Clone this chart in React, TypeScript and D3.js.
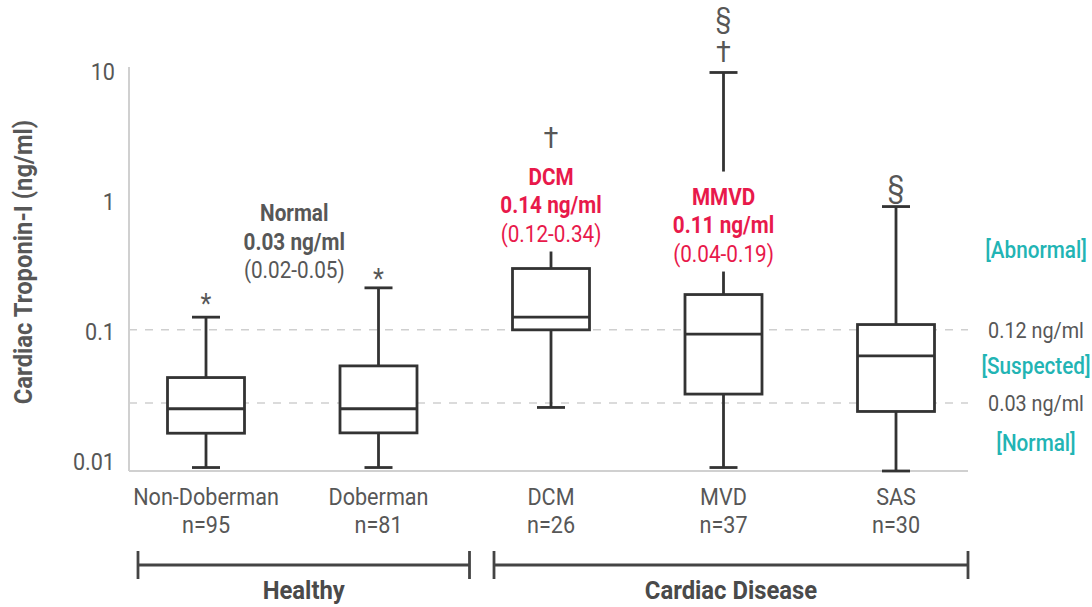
import React from 'react';
import * as d3 from 'd3';

// ---- data ----
const categories = ['Non-Doberman', 'Doberman', 'DCM', 'MVD', 'SAS'];
const sampleSizes = ['n=95', 'n=81', 'n=26', 'n=37', 'n=30'];
const whiskerMin = [0.00904, 0.00904, 0.0262, 0.00904, 0.0085];
const quartile1 = [0.0166, 0.0167, 0.1036, 0.0332, 0.0244];
const medians = [0.0256, 0.0256, 0.1297, 0.096, 0.0654];
const quartile3 = [0.0445, 0.0547, 0.307, 0.1936, 0.1138];
const whiskerMax = [0.1297, 0.218, 0.6, 9.89, 0.92];
const upperCap = [true, true, false, true, true];
const yTicks = [0.01, 0.1, 1, 10];
const yTickLabels = ['0.01', '0.1', '1', '10'];
const thresholdValues = [0.1036, 0.0284];
const thresholdLabels = ['0.12 ng/ml', '0.03 ng/ml'];
const zoneLabels = ['[Abnormal]', '[Suspected]', '[Normal]'];
const groupNames = ['Healthy', 'Cardiac Disease'];
const groupMembers = [['Non-Doberman', 'Doberman'], ['DCM', 'MVD', 'SAS']];
const significance = ['*', '*', '†', '†', '§'];
const extraMark = ['', '', '', '§', ''];
const normalNote = ['Normal', '0.03 ng/ml', '(0.02-0.05)'];
const dcmNote = ['DCM', '0.14 ng/ml', '(0.12-0.34)'];
const mvdNote = ['MMVD', '0.11 ng/ml', '(0.04-0.19)'];

const W = 1092;
const H = 607;
const FONT = 'Roboto, "Liberation Sans", sans-serif';
const GREY = '#575757';
const DARK = '#333333';
const RED = '#e8194b';
const TEAL = '#22b4b4';
const SX = 0.9;

type TProps = {
  x: number; y: number; children: React.ReactNode; size: number; weight?: number;
  fill?: string; anchor?: string; dy?: string; rotate?: number;
};
function T({ x, y, children, size, weight = 400, fill = GREY, anchor = 'middle', dy = '0.35em', rotate = 0 }: TProps) {
  return (
    <text transform={`translate(${x},${y}) rotate(${rotate}) scale(${SX},1)`} dy={dy}
      textAnchor={anchor} fontSize={size} fontWeight={weight} fill={fill}>{children}</text>
  );
}

export default function App() {
  const plotLeft = 129;
  const plotRight = 968;
  const y = d3.scaleLog().domain([0.0085, 10.9]).range([471, 67]);
  const x = d3.scalePoint<string>().domain(categories).range([206, 896]);
  const boxW = 77;
  const capW = 28;

  const boxes = categories.map((c, i) => ({
    c, i, cx: x(c) as number,
    lo: whiskerMin[i], q1: quartile1[i], med: medians[i], q3: quartile3[i], hi: whiskerMax[i],
  }));

  const lineH = 28.5;
  const noteBlock = (lines: string[], cx: number, lastCenter: number, color: string, boldCount: number, bg: boolean, key: string) => {
    const firstCenter = lastCenter - lineH * (lines.length - 1);
    return (
      <g key={key}>
        {bg && (
          <rect x={cx - 75} y={firstCenter - 25} width={150} height={lastCenter - firstCenter + 43} fill="#fff" />
        )}
        {lines.map((t, k) => (
          <T key={k} x={cx} y={firstCenter + k * lineH} size={23} weight={k < boldCount ? 700 : 400} fill={color}>{t}</T>
        ))}
      </g>
    );
  };

  const sigOffsets = [20, 15, 0, 19, 20];

  return (
    <div style={{ position: 'absolute', left: 0, top: 0 }}>
      <svg width={W} height={H} style={{ display: 'block', fontFamily: FONT }}>
        <rect width={W} height={H} fill="#fff" />
        {thresholdValues.map((v, i) => (
          <line key={i} x1={plotLeft} x2={plotRight} y1={y(v)} y2={y(v)} stroke="#cfcfcf" strokeWidth={1.5} strokeDasharray="8,8" />
        ))}
        <line x1={plotLeft} x2={plotLeft} y1={y.range()[1]} y2={y.range()[0]} stroke="#d0d0d0" strokeWidth={2} />
        <line x1={plotLeft} x2={plotRight} y1={y.range()[0]} y2={y.range()[0]} stroke="#d0d0d0" strokeWidth={2} />
        {yTicks.map((t, i) => (
          <T key={t} x={115} y={y(t)} size={24} anchor="end">{yTickLabels[i]}</T>
        ))}
        <T x={23} y={262} size={26.5} weight={700} rotate={-90}>Cardiac Troponin-I (ng/ml)</T>

        {boxes.map(b => (
          <g key={b.c} stroke={DARK} strokeWidth={2.8} fill="none">
            <line x1={b.cx} x2={b.cx} y1={y(b.hi)} y2={y(b.q3)} />
            <line x1={b.cx} x2={b.cx} y1={y(b.q1)} y2={y(b.lo)} />
            {upperCap[b.i] && <line x1={b.cx - capW / 2} x2={b.cx + capW / 2} y1={y(b.hi)} y2={y(b.hi)} />}
            <line x1={b.cx - capW / 2} x2={b.cx + capW / 2} y1={y(b.lo)} y2={y(b.lo)} />
            <rect x={b.cx - boxW / 2} y={y(b.q3)} width={boxW} height={y(b.q1) - y(b.q3)} fill="#fff" />
            <line x1={b.cx - boxW / 2} x2={b.cx + boxW / 2} y1={y(b.med)} y2={y(b.med)} />
          </g>
        ))}

        {noteBlock(normalNote, (boxes[0].cx + boxes[1].cx) / 2 + 2, 270, GREY, 2, false, 'n')}
        {noteBlock(dcmNote, boxes[2].cx, y(boxes[2].q3) - 35, RED, 2, true, 'd')}
        {noteBlock(mvdNote, boxes[3].cx, y(boxes[3].q3) - 41, RED, 2, true, 'm')}

        {boxes.map((b, i) => {
          const center = i === 2 ? 139 : y(b.hi) - sigOffsets[i];
          const sym = significance[i];
          return (
            <g key={'s' + i}>
              {sym === '*'
                ? <T x={b.cx} y={center} size={28} dy="0.55em">{sym}</T>
                : <T x={b.cx} y={center} size={30} dy="0.3em">{sym}</T>}
              {extraMark[i] && <T x={b.cx} y={center - 34} size={28} dy="0.28em">{extraMark[i]}</T>}
            </g>
          );
        })}

        {thresholdValues.map((v, i) => (
          <T key={'t' + i} x={1036} y={y(v)} size={22}>{thresholdLabels[i]}</T>
        ))}
        {zoneLabels.map((t, i) => {
          const yy = i === 0 ? 250 : i === 1 ? (y(thresholdValues[0]) + y(thresholdValues[1])) / 2 : 443;
          return <T key={'z' + i} x={1036} y={yy} size={23} weight={500} fill={TEAL}>{t}</T>;
        })}

        {categories.map((c, i) => (
          <g key={'c' + c}>
            <T x={x(c) as number} y={497} size={24}>{c}</T>
            <T x={x(c) as number} y={525} size={24}>{sampleSizes[i]}</T>
          </g>
        ))}

        {groupNames.map((g, gi) => {
          const x0 = gi === 0 ? plotLeft + 9 : (x(groupMembers[1][0]) as number) - 57;
          const x1 = gi === 0 ? (x(groupMembers[0][groupMembers[0].length - 1]) as number) + 91 : plotRight;
          return (
            <g key={g}>
              <g stroke="#444" strokeWidth={2.8}>
                <line x1={x0} x2={x1} y1={565} y2={565} />
                <line x1={x0} x2={x0} y1={551} y2={579} />
                <line x1={x1} x2={x1} y1={551} y2={579} />
              </g>
              <T x={(x0 + x1) / 2} y={590} size={26.5} weight={700} fill="#4a4a4a">{g}</T>
            </g>
          );
        })}
      </svg>
    </div>
  );
}
